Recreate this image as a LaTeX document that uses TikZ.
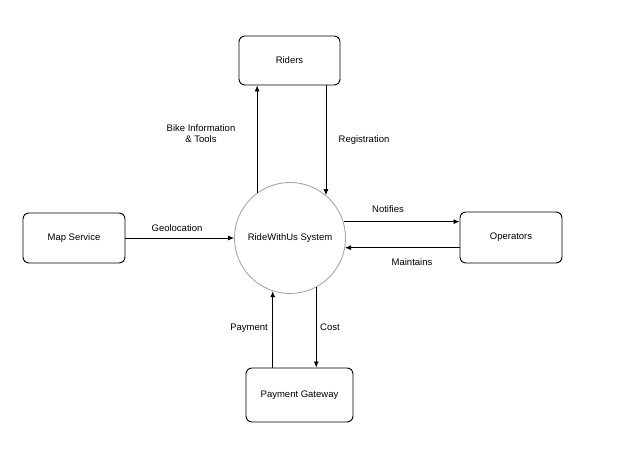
\documentclass[tikz,border=0pt]{standalone}
\usepackage{fontspec}
\setmainfont{Liberation Sans}
\usetikzlibrary{arrows.meta}

\begin{document}
\begin{tikzpicture}[x=1pt,y=1pt,
  ent/.style={draw,rounded corners=6pt,line width=0.9pt,align=center},
  proc/.style={draw=gray!70,circle,line width=0.9pt,minimum size=111pt},
  flow/.style={line width=0.8pt,-{Latex[length=6pt,width=5pt]}},
  lbl/.style={align=center},
  every node/.style={font=\fontsize{9.5}{11}\selectfont}]
\useasboundingbox (0,0) rectangle (624,448);
\node[proc] (sys) at (290,210) {RideWithUs System};
\node[ent,minimum width=101pt,minimum height=49pt] (riders) at (289.5,387.5) {Riders};
\node[ent,minimum width=102pt,minimum height=50pt] (map) at (74,210) {Map Service};
\node[ent,minimum width=102pt,minimum height=51pt] (ops) at (511,210.5) {Operators};
\node[ent,minimum width=107pt,minimum height=54pt] (pay) at (299.5,53) {Payment Gateway};
\draw[flow] (sys.126) -- (sys.126 |- riders.south);
\draw[flow] (riders.south -| sys.50) -- (sys.50);
\draw[flow] (map.east) -- (sys.west);
\draw[flow] (sys.17) -- (sys.17 -| ops.west);
\draw[flow] (sys.-10 -| ops.west) -- (sys.-10);
\draw[flow] (sys.-108 |- pay.north) -- (sys.-108);
\draw[flow] (sys.-62) -- (sys.-62 |- pay.north);
\node[lbl] (l1) at (201,314) {Bike Information\\\& Tools};
\node[lbl] (l2) at (364,308) {Registration};
\node[lbl] (l3) at (177,220) {Geolocation};
\node[lbl] (l4) at (388,239) {Notifies};
\node[lbl] (l5) at (412,186) {Maintains};
\node[lbl] (l6) at (249,120) {Payment};
\node[lbl] (l7) at (330,121) {Cost};
\end{tikzpicture}
\end{document}
